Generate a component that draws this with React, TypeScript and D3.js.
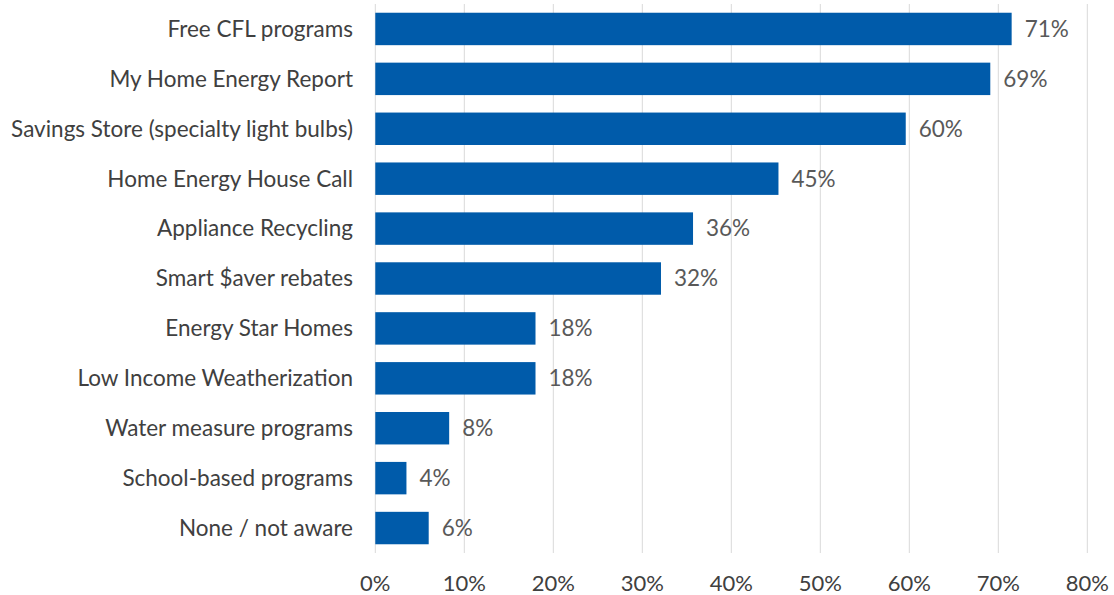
import React from "react";
import * as d3 from "d3";

const categories = [
  "Free CFL programs",
  "My Home Energy Report",
  "Savings Store (specialty light bulbs)",
  "Home Energy House Call",
  "Appliance Recycling",
  "Smart $aver rebates",
  "Energy Star Homes",
  "Low Income Weatherization",
  "Water measure programs",
  "School-based programs",
  "None / not aware",
];
const values = [71.5, 69.1, 59.6, 45.3, 35.7, 32.1, 18.0, 18.0, 8.3, 3.5, 6.0];
const dataLabels = ["71%", "69%", "60%", "45%", "36%", "32%", "18%", "18%", "8%", "4%", "6%"];
const xTicks = [0, 10, 20, 30, 40, 50, 60, 70, 80];

const W = 1114;
const H = 595;
const left = 375.3;
const right = 1087.3;
const top = 4;
const bottom = 553;
const FONT = "Lato, 'Open Sans', sans-serif";

export default function App() {
  const x = d3.scaleLinear().domain([0, 80]).range([left, right]);
  const y = d3.scaleBand<string>().domain(categories).range([top, bottom]).paddingInner(0.35).paddingOuter(0.175);
  return (
    <svg width={W} height={H} style={{ position: "absolute", left: 0, top: 0, background: "#fff" }}>
      {xTicks.map((t) => (
        <line key={"g" + t} x1={x(t)} x2={x(t)} y1={top} y2={bottom} stroke="#d9d9d9" strokeWidth={1} />
      ))}
      {categories.map((c, i) => (
        <g key={c}>
          <rect x={x(0)} y={y(c)} width={x(values[i]) - x(0)} height={y.bandwidth()} fill="#005BAA" />
          <text x={x(values[i]) + 13} y={(y(c) as number) + y.bandwidth() / 2} dy="0.35em" fontFamily={FONT} fontSize={22.5} fill="#595959">
            {dataLabels[i]}
          </text>
          <text x={353} y={(y(c) as number) + y.bandwidth() / 2} dy="0.35em" textAnchor="end" fontFamily={FONT} fontSize={22.5} fill="#404040">
            {c}
          </text>
        </g>
      ))}
      {xTicks.map((t) => (
        <text key={"t" + t} x={x(t)} y={583} dy="0.35em" textAnchor="middle" fontFamily={FONT} fontSize={22} fill="#404040">
          {t + "%"}
        </text>
      ))}
    </svg>
  );
}
